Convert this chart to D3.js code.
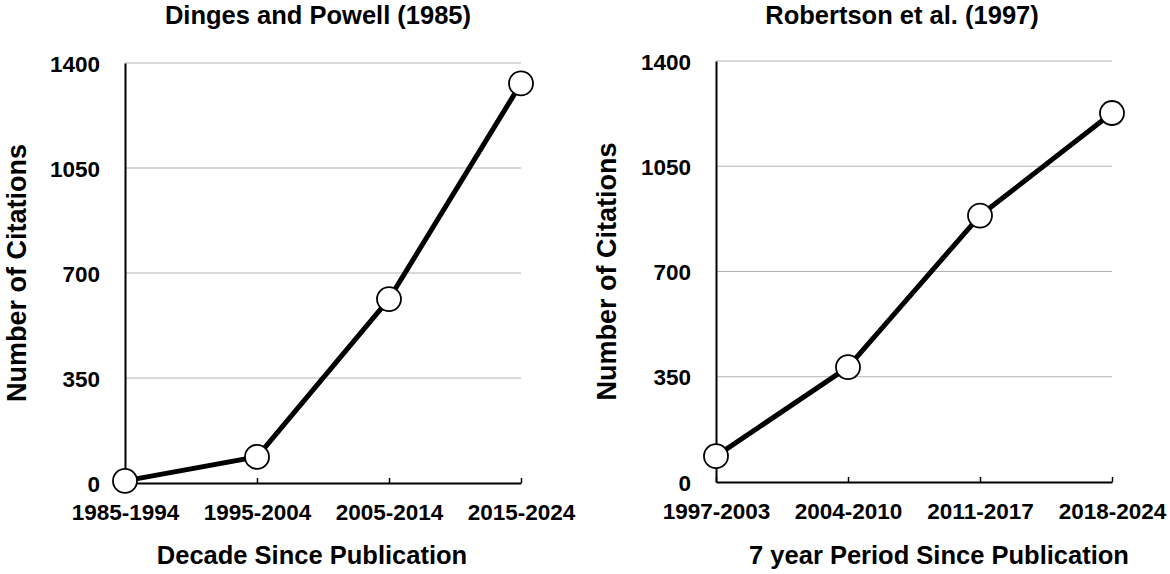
<!DOCTYPE html>
<html>
<head>
<meta charset="utf-8">
<script src="https://cdn.jsdelivr.net/npm/d3@7"></script>
<style>
  html, body { margin: 0; padding: 0; background: #fff; }
  text { font-family: "Liberation Sans", Arial, Helvetica, sans-serif; font-weight: bold; fill: #000; }
</style>
</head>
<body>
<svg id="chart" width="1170" height="574"></svg>
<script>
// ---- data ----
const titles = ["Dinges and Powell (1985)", "Robertson et al. (1997)"];
const xTitles = ["Decade Since Publication", "7 year Period Since Publication"];
const yTitle = "Number of Citations";
const categoriesA = ["1985-1994", "1995-2004", "2005-2014", "2015-2024"];
const valuesA = [7, 87, 613, 1332];
const categoriesB = ["1997-2003", "2004-2010", "2011-2017", "2018-2024"];
const valuesB = [86, 382, 886, 1227];
const yTicks = [0, 350, 700, 1050, 1400];

// ---- layout ----
const panels = [
  { cats: categoriesA, vals: valuesA, title: titles[0], xTitle: xTitles[0],
    x0: 125, x1: 521, y0: 483, y1: 63, titleX: 318, xTitleX: 312, yTitleX: 26 },
  { cats: categoriesB, vals: valuesB, title: titles[1], xTitle: xTitles[1],
    x0: 716, x1: 1112, y0: 482, y1: 61, titleX: 902, xTitleX: 939, yTitleX: 616 }
];

const svg = d3.select("#chart");

panels.forEach(p => {
  const g = svg.append("g");
  const x = d3.scalePoint().domain(p.cats).range([p.x0, p.x1]);
  const y = d3.scaleLinear().domain([0, 1400]).range([p.y0, p.y1]);

  // gridlines
  g.selectAll("line.grid").data(yTicks.filter(t => t > 0)).enter().append("line")
    .attr("x1", p.x0).attr("x2", p.x1)
    .attr("y1", d => y(d)).attr("y2", d => y(d))
    .attr("stroke", "#b3b3b3").attr("stroke-width", 1.2);

  // y axis
  const yAxis = d3.axisLeft(y).tickValues(yTicks).tickFormat(d3.format("d")).tickSize(0).tickPadding(25);
  const ya = g.append("g").attr("transform", `translate(${p.x0},0)`).call(yAxis);
  ya.select(".domain").attr("stroke", "#000").attr("stroke-width", 2);
  ya.selectAll("text").style("font-size", "22.5px").attr("dy", "0.36em");

  // x axis
  const xAxis = d3.axisBottom(x).tickSize(-5).tickSizeOuter(0).tickPadding(21);
  const xa = g.append("g").attr("transform", `translate(0,${p.y0})`).call(xAxis);
  xa.select(".domain").attr("stroke", "#000").attr("stroke-width", 2);
  xa.selectAll(".tick line").attr("stroke", "#000").attr("stroke-width", 1.5);
  xa.selectAll("text").style("font-size", "22.5px");

  // line
  const line = d3.line().x((d, i) => x(p.cats[i])).y(d => y(d));
  g.append("path").datum(p.vals).attr("d", line)
    .attr("fill", "none").attr("stroke", "#000").attr("stroke-width", 5)
    .attr("stroke-linejoin", "round");

  // points
  g.selectAll("circle").data(p.vals).enter().append("circle")
    .attr("cx", (d, i) => x(p.cats[i])).attr("cy", d => y(d))
    .attr("r", 12).attr("fill", "#fff").attr("stroke", "#000").attr("stroke-width", 1.8);

  // titles
  g.append("text").attr("x", p.titleX).attr("y", 24).attr("text-anchor", "middle")
    .style("font-size", "25.5px").text(p.title);
  g.append("text").attr("x", p.xTitleX).attr("y", 564).attr("text-anchor", "middle")
    .style("font-size", "25.5px").text(p.xTitle);
  g.append("text").attr("transform", `translate(${p.yTitleX},${(p.y0 + p.y1) / 2}) rotate(-90)`)
    .attr("text-anchor", "middle").style("font-size", "27px").text(yTitle);
});
</script>
</body>
</html>
